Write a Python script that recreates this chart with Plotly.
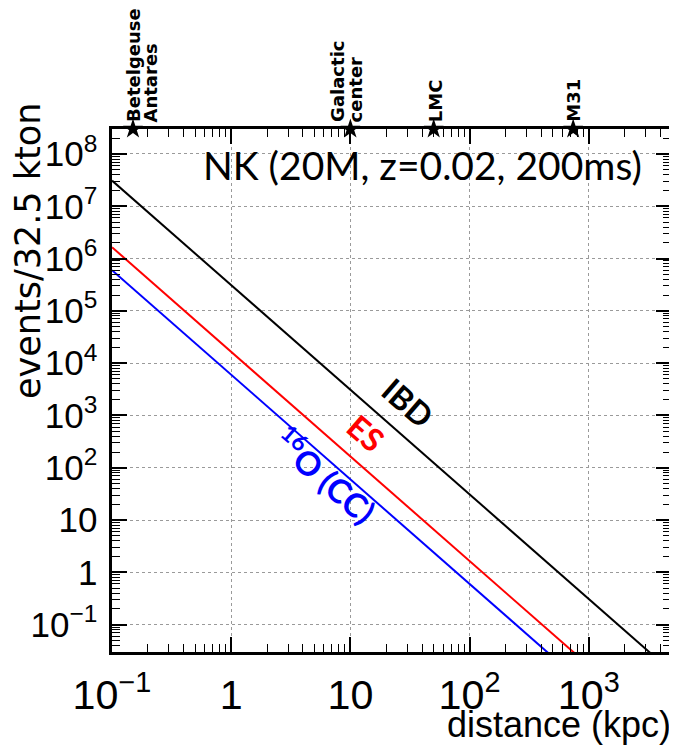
import numpy as np
import plotly.graph_objects as go

# ---- data ----
distance_kpc = [0.1, 1, 10, 100, 1000, 10000]
ibd_events = [3.1e7, 3.1e5, 3.1e3, 31, 0.31, 0.0031]
es_events = [1.65e6, 1.65e4, 165, 1.65, 0.0165, 0.000165]
o16_events = [6.0e5, 6.0e3, 60, 0.6, 0.006, 0.00006]

source_names = ["Betelgeuse", "Antares", "Galactic", "center", "LMC", "M31"]
source_dist = [0.15, 0.15, 10, 10, 50, 740]
star_dist = [0.15, 10, 50, 740]

x_range = [-1, 3.69]
y_range = [np.log10(0.03), np.log10(3e8)]

fig = go.Figure()
for y, c in [(ibd_events, "black"), (es_events, "#ff0000"), (o16_events, "#0000ff")]:
    fig.add_trace(go.Scatter(x=distance_kpc, y=y, mode="lines",
                             line=dict(color=c, width=2), showlegend=False))

fig.add_trace(go.Scatter(x=star_dist, y=[10 ** y_range[1]] * len(star_dist), mode="markers",
                         marker=dict(symbol="star", size=15, color="black"),
                         cliponaxis=False, showlegend=False))

axis_common = dict(
    type="log", showline=True, linecolor="black", linewidth=3, mirror="allticks",
    ticks="inside", ticklen=15, tickwidth=1.5, tickcolor="black",
    showgrid=True, gridcolor="#9a9a9a", griddash="dot", gridwidth=1,
    zeroline=False, dtick=1, exponentformat="power",
    minor=dict(ticks="inside", ticklen=8, tickwidth=1, tickcolor="black", dtick="D1", showgrid=False),
)

fig.update_xaxes(range=x_range, tickfont=dict(family="Liberation Sans", size=33, color="black"),
                 ticklabelstandoff=6, **axis_common)
fig.update_yaxes(range=y_range, tickfont=dict(family="Liberation Sans", size=28, color="black"),
                 ticklabelstandoff=6, **axis_common)

ann = []
# source labels on top
offsets = [0, 18, -13, 5, 2, 0]
for name, d, dx in zip(source_names, source_dist, offsets):
    ann.append(dict(x=np.log10(d), y=1, xref="x", yref="paper", text=name, showarrow=False,
                    textangle=-90, xanchor="center", yanchor="bottom", xshift=dx, yshift=5,
                    font=dict(family="DejaVu Sans", size=18, color="black", weight="bold")))

ann.append(dict(x=0.555, y=0.932, xref="paper", yref="paper", text="NK (20M, z=0.02, 200ms)",
                showarrow=False, xanchor="center", yanchor="middle",
                font=dict(family="Lato", size=39, color="black")))

# line labels
ann.append(dict(x=1.485, y=3.257, xref="x", yref="y", text="IBD", showarrow=False, textangle=41,
                font=dict(family="Lato", size=32, color="black", weight="bold")))
ann.append(dict(x=1.128, y=2.67, xref="x", yref="y", text="ES", showarrow=False, textangle=41,
                font=dict(family="Lato", size=32, color="#ff0000", weight="bold")))
ann.append(dict(x=0.796, y=1.87, xref="x", yref="y", text="<sup>16</sup>O (CC)", showarrow=False,
                textangle=41, font=dict(family="Lato", size=33, color="#0000ff", weight="bold")))

# axis titles
ann.append(dict(x=0, y=1, xref="paper", yref="paper", text="events/32.5 kton", showarrow=False,
                textangle=-90, xanchor="center", yanchor="top", xshift=-84, yshift=28,
                font=dict(family="DejaVu Sans", size=35, color="black")))
ann.append(dict(x=1, y=0, xref="paper", yref="paper", text="distance (kpc)", showarrow=False,
                xanchor="right", yanchor="middle", yshift=-72, xshift=2,
                font=dict(family="Liberation Sans", size=36, color="black")))

# page body adds an 8px offset; size figure to fit the 677x753 window
fig.update_layout(
    width=669, height=745, paper_bgcolor="white", plot_bgcolor="white",
    margin=dict(l=104, r=3, t=121, b=101),
    annotations=ann, showlegend=False,
)

fig.write_html("out.html")
